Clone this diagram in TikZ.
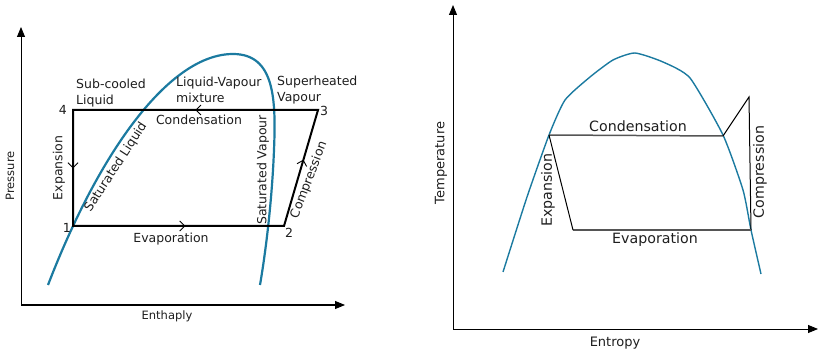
\documentclass[tikz,border=0pt]{standalone}
\usepackage{fontspec}
\setmainfont{DejaVu Sans}
\usetikzlibrary{arrows.meta,decorations.markings}
\definecolor{curveblue}{HTML}{1B7AA0}
\definecolor{txt}{HTML}{1E1E1E}
\definecolor{cycgray}{HTML}{555555}
\tikzset{
  axis/.style={line width=1pt, draw=black, -{Triangle[length=10pt,width=8pt]}},
  cyc/.style={line width=2pt, line join=miter, draw=black},
  chev/.style={postaction={decorate}, decoration={markings, mark=at position #1 with {\draw[line width=0.9pt,black] (-3pt,5pt) -- (2pt,0pt) -- (-3pt,-5pt);}}},
  lbl/.style={text=txt, inner sep=0pt, font=\fontsize{12.5}{16}\selectfont},
  rlbl/.style={text=txt, inner sep=0pt, font=\fontsize{14.2}{17}\selectfont},
  axlbl/.style={text=txt, inner sep=0pt, font=\fontsize{11.5}{14}\selectfont},
  raxlbl/.style={text=txt, inner sep=0pt, font=\fontsize{13}{16}\selectfont},
  dome/.style={draw=curveblue, line width=2.2pt},
  rdome/.style={draw=curveblue, line width=1.4pt},
  hline/.style={draw=cycgray, line width=1.5pt},
  tline/.style={draw=black, line width=1pt},
}
\begin{document}
\begin{tikzpicture}[x=1pt,y=-1pt]
\useasboundingbox (0,0) rectangle (819,355);

% ---------- left: p-h diagram ----------
\coordinate (lo) at (21,305);
\coordinate (ly) at (21,27);
\coordinate (lx) at (345,305);
\draw[axis] (lo) -- (ly);
\draw[axis] (lo) -- (lx);
\node[axlbl, rotate=90] (pres) at (10,176) {Pressure};
\node[axlbl] (enth) at (167,316) {Enthaply};

% saturation dome
\draw[dome] (48,285) .. controls (100,150) and (170,54) .. (233,54)
  .. controls (275,54) and (276,100) .. (274,150)
  .. controls (272,200) and (266,250) .. (260,285);

% cycle
\coordinate (p1) at (73,226);
\coordinate (p2) at (284,226);
\coordinate (p3) at (318,110);
\coordinate (p4) at (73,110);
\draw[cyc] (p1) -- (p2) -- (p3) -- (p4) -- cycle;
\path[chev=0.49] (p3) -- (p4);
\path[chev=0.48] (p4) -- (p1);
\path[chev=0.52] (p1) -- (p2);
\path[chev=0.55] (p2) -- (p3);

\node[lbl, anchor=east] (n4) at (67,110) {4};
\node[lbl, anchor=west] (n3) at (320,111) {3};
\node[lbl, anchor=east] (n1) at (71,228) {1};
\node[lbl, anchor=west] (n2) at (285,233) {2};

\node[lbl, anchor=north west, align=left] (subc) at (76,79) {Sub-cooled\\Liquid};
\node[lbl, anchor=north west, align=left] (lvm) at (176,77) {Liquid-Vapour\\mixture};
\node[lbl, anchor=north west, align=left] (suph) at (277,76) {Superheated\\Vapour};
\node[lbl] (cond) at (199,120) {Condensation};
\node[lbl] (evap) at (171,239) {Evaporation};
\node[lbl, rotate=90] (expn) at (59,168) {Expansion};
\node[lbl, rotate=57] (satl) at (116,167) {Saturated Liquid};
\node[lbl, rotate=90] (satv) at (263,170) {Saturated Vapour};
\node[lbl, rotate=69] (comp) at (309,180) {Compression};

% ---------- right: T-s diagram ----------
\coordinate (ro) at (453,329);
\coordinate (ry) at (453,5);
\coordinate (rx) at (818,329);
\draw[axis] (ro) -- (ry);
\draw[axis] (ro) -- (rx);
\node[raxlbl, rotate=90] (temp) at (441,163) {Temperature};
\node[raxlbl] (entr) at (615,343) {Entropy};

\draw[rdome] plot[smooth, tension=0.35] coordinates {
  (503,272) (527,197) (549,135) (565,100) (590,77) (613,60) (635,53)
  (663,62) (690,78) (723,135) (743,190) (751,230) (761,274)};

\coordinate (a) at (549,135);
\coordinate (b) at (723,136);
\coordinate (c) at (749,97);
\coordinate (d) at (751,230);
\coordinate (e) at (573,230);
\draw[hline] (a) -- (b);
\draw[tline] (b) -- (c) -- (d);
\draw[hline] (d) -- (e);
\draw[tline] (e) -- (a);

\node[rlbl] (rcond) at (638,126) {Condensation};
\node[rlbl] (revap) at (655,240) {Evaporation};
\node[rlbl, rotate=90] (rexp) at (548,190) {Expansion};
\node[rlbl, rotate=90] (rcomp) at (760,172) {Compression};
\end{tikzpicture}
\end{document}
